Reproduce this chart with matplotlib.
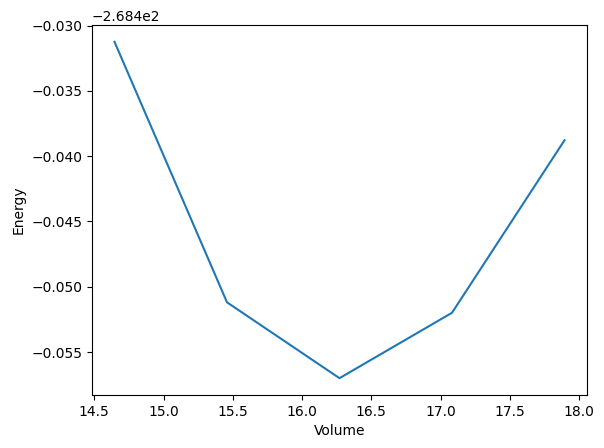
import matplotlib
matplotlib.use("Agg")
import matplotlib.pyplot as plt

# datos
volume = [14.646, 15.458, 16.270, 17.082, 17.894]
energy = [-268.43124, -268.45119, -268.45700, -268.45199, -268.43878]

fig = plt.figure(figsize=(6.04, 4.48), dpi=100)
fig.subplots_adjust(left=92 / 604, right=587 / 604, top=1 - 25 / 448, bottom=1 - 395 / 448)
ax = fig.add_subplot(111)

ax.plot(volume, energy)
ax.set_xlabel("Volume")
ax.set_ylabel("Energy")

fig.savefig("out.png", dpi=100)
